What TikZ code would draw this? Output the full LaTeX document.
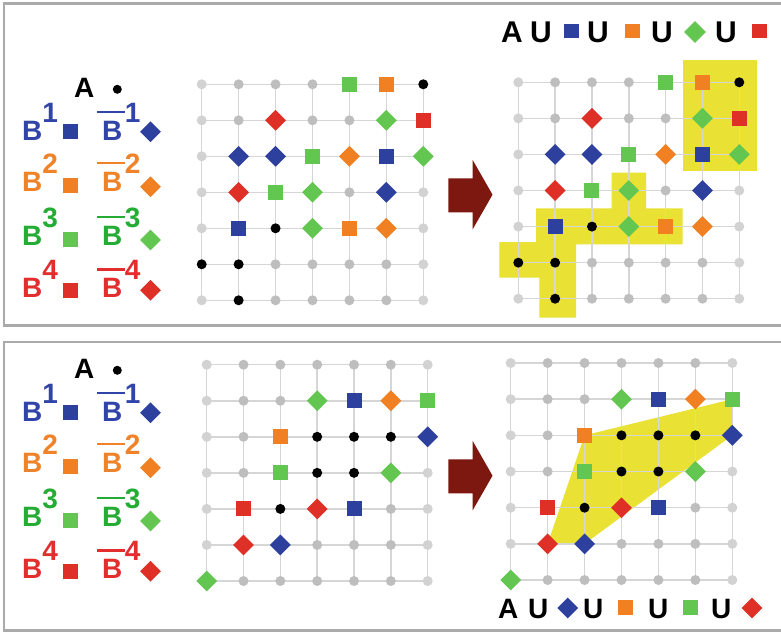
\documentclass[tikz,border=0pt]{standalone}
\usepackage{fontspec}
\setmainfont{Liberation Sans}
\usetikzlibrary{shapes.geometric}

% marker colours
\definecolor{mblue}{RGB}{46,64,158}
\definecolor{morange}{RGB}{240,128,34}
\definecolor{mgreen}{RGB}{98,198,80}
\definecolor{mred}{RGB}{222,48,38}
% label colours
\definecolor{tblue}{RGB}{48,68,170}
\definecolor{torange}{RGB}{240,130,40}
\definecolor{tgreen}{RGB}{36,172,52}
\definecolor{tred}{RGB}{226,46,44}
% misc
\definecolor{hilite}{RGB}{233,226,52}
\definecolor{arrowred}{RGB}{125,24,16}
\definecolor{framegray}{RGB}{170,170,170}
\definecolor{linegray}{RGB}{214,214,214}
\definecolor{dotdark}{RGB}{190,190,190}
\definecolor{dotlight}{RGB}{210,210,210}

\tikzset{
  sqm/.style={rectangle,minimum size=15pt,inner sep=0pt},
  dmm/.style={diamond,minimum size=21pt,inner sep=0pt,aspect=1},
  dtm/.style={circle,minimum size=10pt,inner sep=0pt},
  mk-g/.style={dtm,fill=\gshade},
  mk-k/.style={dtm,fill=black},
  mk-bs/.style={sqm,fill=mblue},
  mk-bd/.style={dmm,fill=mblue},
  mk-os/.style={sqm,fill=morange},
  mk-od/.style={dmm,fill=morange},
  mk-gs/.style={sqm,fill=mgreen},
  mk-gd/.style={dmm,fill=mgreen},
  mk-rs/.style={sqm,fill=mred},
  mk-rd/.style={dmm,fill=mred},
  gridline/.style={draw=linegray,line width=1.5pt},
  panelframe/.style={draw=framegray,line width=2.5pt},
  lbl/.style={anchor=base west,inner sep=0pt,font=\fontsize{28}{28}\selectfont\bfseries},
  flbl/.style={anchor=base west,inner sep=0pt,font=\fontsize{30}{30}\selectfont\bfseries},
  blbl/.style={anchor=base west,inner sep=0pt,font=\fontsize{28}{28}\selectfont\bfseries},
  bigarrow/.style={fill=arrowred},
}

% lattice positions: name, x0, dx, y0, dy
\newcommand\gridcoords[5]{%
  \foreach \r in {0,...,6}{\foreach \c in {0,...,6}{%
    \coordinate (#1-\r-\c) at ({#2+\c*#3},{#4+\r*#5});}}}
% lattice edges
\newcommand\gridlines[1]{%
  \foreach \i in {0,...,6}{%
    \draw[gridline] (#1-\i-0) -- (#1-\i-6);
    \draw[gridline] (#1-0-\i) -- (#1-6-\i);}}
% lattice markers, row by row
\newcommand\gridmarks[2]{%
  \foreach \row [count=\r from 0] in {#2}{%
    \foreach \m [count=\c from 0] in \row {%
      \ifnum\c=0 \def\gshade{dotlight}\else\ifnum\c=6 \def\gshade{dotlight}\else\def\gshade{dotdark}\fi\fi
      \node[mk-\m] (#1-m-\r-\c) at (#1-\r-\c) {};}}}

% legend column with A, B^i and complemented B^i
\newcommand\legendcol[2]{%
  \begin{scope}[shift={(0,#2)}]
    \node[lbl] (#1-A) at (74,97) {A};
    \node[dtm,fill=black,minimum size=9pt] (#1-Adot) at (117.3,89.3) {};
    \foreach \i/\tc/\mc/\yb/\ys/\yd in {1/tblue/mblue/140/131.5/131.7,
        2/torange/morange/191/185.5/186.7, 3/tgreen/mgreen/245/239/240,
        4/tred/mred/297.3/290/290.3}{%
      \node[lbl,text=\tc] (#1-b\i) at (22,\yb) {B\raisebox{18pt}{\i}};
      \node[sqm,fill=\mc] (#1-s\i) at (70.5,\ys) {};
      \node[lbl,text=\tc] (#1-nb\i) at (102,\yb) {B\kern2.5pt\raisebox{18pt}{\i}};
      \draw[draw=\tc,line width=2.5pt] (97,\yb-28) -- (125,\yb-28);
      \node[dmm,fill=\mc] (#1-d\i) at (150.5,\yd) {};
    }
  \end{scope}}

% block arrow between the lattices
\newcommand\blockarrow[1]{%
  \begin{scope}[shift={(0,#1)}]
    \fill[bigarrow] (448.3,178.3) -- (472.7,178.3) -- (472.7,160) -- (492.5,194.7)
      -- (472.7,229.3) -- (472.7,212.3) -- (448.3,212.3) -- cycle;
  \end{scope}}

\begin{document}
\begin{tikzpicture}[x=1pt,y=-1pt]
\useasboundingbox (0,0) rectangle (781,634);
\clip (0,0) rectangle (781,634);
\fill[white] (0,0) rectangle (781,634);

% panel frames
\draw[panelframe] (4,3.5) rectangle (795,325.3);
\draw[panelframe] (4,342) rectangle (795,630.5);

% ---------- upper panel ----------
\legendcol{la}{0}
\gridcoords{g1}{201.7}{36.93}{84.3}{36.0}
\gridcoords{g2}{518.3}{36.83}{82.3}{36.07}

% highlighted regions on the right lattice
\fill[hilite] (683.3,60) rectangle (757.3,170.7);
\fill[hilite] (611.7,172.7) -- (646,172.7) -- (646,208.3) -- (682.7,208.3)
  -- (682.7,244.3) -- (576,244.3) -- (576,317.7) -- (539.3,317.7)
  -- (539.3,277.7) -- (499.3,277.7) -- (499.3,242) -- (536,242)
  -- (536,208.3) -- (611.7,208.3) -- cycle;

\gridlines{g1}
\gridlines{g2}
\gridmarks{g1}{{g,g,g,g,gs,os,k},{g,g,rd,g,g,gd,rs},{g,bd,bd,gs,od,bs,gd},
  {g,rd,gs,gd,g,bd,g},{g,bs,k,gd,os,od,g},{k,k,g,g,g,g,g},{g,k,g,g,g,g,g}}
\gridmarks{g2}{{g,g,g,g,gs,os,k},{g,g,rd,g,g,gd,rs},{g,bd,bd,gs,od,bs,gd},
  {g,rd,gs,gd,g,bd,g},{g,bs,k,gd,os,od,g},{k,k,g,g,g,g,g},{g,k,g,g,g,g,g}}

\blockarrow{0}

% union formula
\node[flbl] (fa-A) at (501,43) {A};
\node[flbl] (fa-U1) at (530,43) {U};
\node[sqm,fill=mblue,minimum height=14pt] (fa-s1) at (571.5,31.5) {};
\node[flbl] (fa-U2) at (587,43) {U};
\node[sqm,fill=morange,minimum height=14pt] (fa-s2) at (632.5,31.5) {};
\node[flbl] (fa-U3) at (651,43) {U};
\node[dmm,fill=mgreen,minimum size=22pt] (fa-d3) at (695,32) {};
\node[flbl] (fa-U4) at (715,43) {U};
\node[sqm,fill=mred,minimum height=14pt] (fa-s4) at (759,31.3) {};

% ---------- lower panel ----------
\legendcol{lb}{281}
\gridcoords{g3}{206.7}{36.83}{364.7}{36.05}
\gridcoords{g4}{510.7}{36.93}{363.0}{36.17}

% convex hull on the right lattice
\fill[hilite] (g4-2-2) -- (g4-1-6) -- (g4-2-6) -- (g4-5-2) -- (g4-5-1) -- cycle;

\gridlines{g3}
\gridlines{g4}
\gridmarks{g3}{{g,g,g,g,g,g,g},{g,g,g,gd,bs,od,gs},{g,g,os,k,k,k,bd},
  {g,g,gs,k,k,gd,g},{g,rs,k,rd,bs,g,g},{g,rd,bd,g,g,g,g},{gd,g,g,g,g,g,g}}
\gridmarks{g4}{{g,g,g,g,g,g,g},{g,g,g,gd,bs,od,gs},{g,g,os,k,k,k,bd},
  {g,g,gs,k,k,gd,g},{g,rs,k,rd,bs,g,g},{g,rd,bd,g,g,g,g},{gd,g,g,g,g,g,g}}

\blockarrow{281}

% union formula
\node[blbl] (fb-A) at (498,618) {A};
\node[blbl] (fb-U1) at (528,618) {U};
\node[dmm,fill=mblue] (fb-d1) at (567.7,608) {};
\node[blbl] (fb-U2) at (583,618) {U};
\node[sqm,fill=morange] (fb-s2) at (625.5,607.5) {};
\node[blbl] (fb-U3) at (648,618) {U};
\node[sqm,fill=mgreen] (fb-s3) at (690.5,607.5) {};
\node[blbl] (fb-U4) at (711,618) {U};
\node[dmm,fill=mred] (fb-d4) at (752,608) {};
\end{tikzpicture}
\end{document}
